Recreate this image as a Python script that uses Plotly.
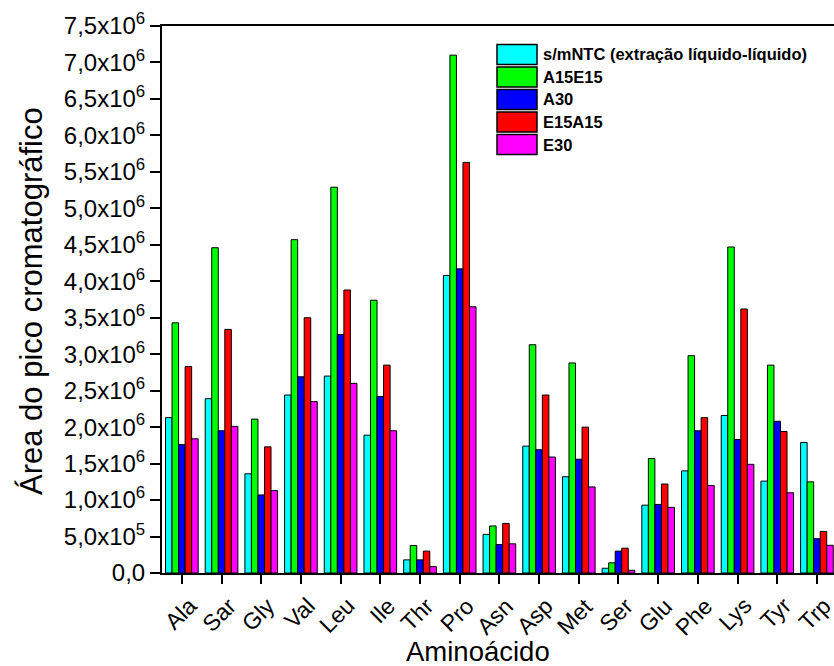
import plotly.graph_objects as go

# Amino acids on the x axis
aminoacidos = ["Ala", "Sar", "Gly", "Val", "Leu", "Ile", "Thr", "Pro", "Asn",
               "Asp", "Met", "Ser", "Glu", "Phe", "Lys", "Tyr", "Trp"]

# Chromatographic peak areas (x10^6) for each extraction condition
smntc = [2.13, 2.39, 1.36, 2.44, 2.70, 1.89, 0.18, 4.08, 0.53,
         1.74, 1.32, 0.065, 0.93, 1.40, 2.16, 1.26, 1.79]
a15e15 = [3.43, 4.46, 2.11, 4.57, 5.29, 3.74, 0.376, 7.10, 0.645,
          3.13, 2.88, 0.14, 1.57, 2.98, 4.47, 2.85, 1.25]
a30 = [1.76, 1.95, 1.07, 2.69, 3.27, 2.42, 0.18, 4.17, 0.39,
       1.69, 1.56, 0.30, 0.94, 1.95, 1.83, 2.08, 0.47]
e15a15 = [2.83, 3.34, 1.73, 3.50, 3.88, 2.85, 0.30, 5.63, 0.68,
          2.44, 2.00, 0.34, 1.22, 2.13, 3.62, 1.94, 0.57]
e30 = [1.84, 2.01, 1.13, 2.35, 2.60, 1.95, 0.088, 3.65, 0.40,
       1.59, 1.18, 0.037, 0.90, 1.20, 1.49, 1.10, 0.38]

series_names = ["s/mNTC (extração líquido-líquido)", "A15E15", "A30", "E15A15", "E30"]
series_values = [smntc, a15e15, a30, e15a15, e30]
series_colors = ["#00FFFF", "#00FF00", "#0000FF", "#FF0000", "#FF00FF"]

# y ticks: 0 .. 7.5e6 every 0.5e6
y_ticks = [i * 0.5e6 for i in range(16)]
y_tick_text = ["0,0", "5,0x10<sup>5</sup>"] + [
    ("%.1f" % (v / 1e6)).replace(".", ",") + "x10<sup>6</sup>" for v in y_ticks[2:]
]

FONT = "Liberation Sans, Arial, sans-serif"
W, H = 834, 666
ML, MR, MT, MB = 162, 0, 26, 93

x_idx = list(range(len(aminoacidos)))

fig = go.Figure()
for name, vals, col in zip(series_names, series_values, series_colors):
    fig.add_trace(go.Bar(
        x=x_idx, y=[v * 1e6 for v in vals], name=name,
        marker=dict(color=col, line=dict(color="black", width=1)),
        showlegend=False,
    ))

plot_w = W - ML - MR
plot_h = H - MT - MB


def px_x(px):
    return (px - ML) / plot_w


def px_y(py):
    return (H - MB - py) / plot_h


annotations = []
# rotated category labels
for i, lab in enumerate(aminoacidos):
    annotations.append(dict(
        x=i, y=0, xref="x", yref="y", text=lab, showarrow=False,
        textangle=-45, xanchor="right", yanchor="top",
        xshift=22, yshift=-17,
        font=dict(family=FONT, size=23, color="black"),
    ))

# axis titles
annotations.append(dict(
    x=px_x(478), y=px_y(651), xref="paper", yref="paper",
    text="Aminoácido", showarrow=False, xanchor="center", yanchor="middle",
    font=dict(family=FONT, size=27.5, color="black"),
))
annotations.append(dict(
    x=px_x(31), y=px_y(301), xref="paper", yref="paper",
    text="Área do pico cromatográfico", showarrow=False, textangle=-90,
    xanchor="center", yanchor="middle",
    font=dict(family=FONT, size=31, color="black"),
))

# legend drawn as swatches + labels
shapes = []
sw_x0, sw_x1 = 497, 537
row_top, row_step, sw_h = 44.5, 22.5, 20
for k, (name, col) in enumerate(zip(series_names, series_colors)):
    top = row_top + k * row_step
    shapes.append(dict(
        type="rect", xref="paper", yref="paper",
        x0=px_x(sw_x0), x1=px_x(sw_x1), y0=px_y(top + sw_h), y1=px_y(top),
        fillcolor=col, line=dict(color="black", width=1.5),
    ))
    annotations.append(dict(
        x=px_x(sw_x1 + 4), y=px_y(top + sw_h / 2), xref="paper", yref="paper",
        text="<b>%s</b>" % name, showarrow=False, xanchor="left", yanchor="middle",
        font=dict(family=FONT, size=16.5, color="black"),
    ))

fig.update_layout(
    width=W, height=H,
    margin=dict(l=ML, r=MR, t=MT, b=MB, pad=0),
    paper_bgcolor="white", plot_bgcolor="white",
    barmode="group", bargap=0.177, bargroupgap=0,
    shapes=shapes, annotations=annotations,
    xaxis=dict(
        range=[-0.5, 16.43], tickvals=x_idx, showticklabels=False,
        ticks="outside", ticklen=9, tickwidth=2, tickcolor="black",
        showline=True, linewidth=2, linecolor="black", mirror=True,
        showgrid=False, zeroline=False,
    ),
    yaxis=dict(
        range=[0, 7.5e6], tickvals=y_ticks, ticktext=y_tick_text,
        ticks="outside", ticklen=10, tickwidth=2, tickcolor="black",
        showline=True, linewidth=2, linecolor="black", mirror=False,
        showgrid=False, zeroline=False,
        tickfont=dict(family=FONT, size=24, color="black"),
    ),
)

fig.write_html("out.html")
